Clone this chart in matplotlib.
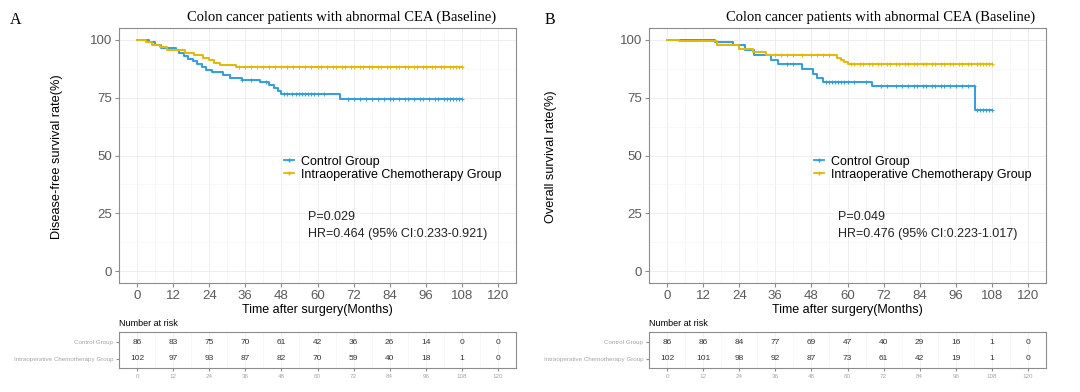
import matplotlib
matplotlib.use("Agg")
import matplotlib.pyplot as plt
from matplotlib.lines import Line2D
import numpy as np

plt.rcParams['font.family'] = ['Liberation Sans', 'DejaVu Sans']

blue = '#2E9FDF'
yellow = '#E7B800'
groups = ['Control Group', 'Intraoperative Chemotherapy Group']
title = 'Colon cancer patients with abnormal CEA (Baseline)'
risk_times = [0, 12, 24, 36, 48, 60, 72, 84, 96, 108, 120]

# Panel A - disease-free survival
a_ctrl_t = [0, 4, 6, 8, 13, 14, 15.5, 17, 18.5, 20, 21.5, 23, 25, 28.5, 31, 35, 41, 44, 45.5, 47, 48, 67.5, 108]
a_ctrl_s = [100, 98.8, 97.7, 96.5, 95.3, 94.1, 92.9, 91.8, 90.6, 89.4, 88.2, 87.0, 85.9, 84.7, 83.6, 82.6, 81.5,
            80.3, 79.1, 77.8, 76.5, 74.5, 74.5]
a_int_t = [0, 3, 5, 7.5, 10, 16, 19, 22, 24, 25.5, 27.5, 33, 108]
a_int_s = [100, 98.9, 97.7, 96.6, 95.5, 94.4, 93.3, 92.2, 91.1, 90.0, 89.0, 88.0, 88.0]
a_ctrl_cens = [35, 38, 43, 49, 50, 51.5, 53, 54, 55, 56, 57, 58, 59, 60, 62, 70, 72, 74, 76, 78, 80, 82, 84, 85,
               87, 89, 90, 92, 94, 95, 97, 99, 100, 102, 103, 104, 105, 106, 107, 108]
a_int_cens = [34, 36, 38, 40, 42, 44, 46, 48, 50, 52, 54, 56, 58, 60, 61, 63, 65, 66, 68, 69, 71, 72, 74, 75, 77,
              78, 80, 81, 83, 84, 86, 87, 89, 90, 92, 93, 95, 96, 98, 99, 101, 102, 104, 105, 106, 107, 108]
a_risk_ctrl = [86, 83, 75, 70, 61, 42, 36, 26, 14, 0, 0]
a_risk_int = [102, 97, 93, 87, 82, 70, 59, 40, 18, 1, 0]

# Panel B - overall survival
b_ctrl_t = [0, 16, 22, 26, 29, 34.5, 37, 45, 48.5, 50, 52, 68, 102.5, 108]
b_ctrl_s = [100, 98.8, 97.6, 95.4, 93.2, 91.0, 89.5, 87.2, 85.0, 83.5, 81.8, 79.9, 69.8, 69.8]
b_int_t = [0, 4, 16.5, 24, 28.5, 33, 56.5, 58, 59, 60, 108]
b_int_s = [100, 99.2, 97.6, 96.0, 94.5, 93.2, 92.2, 91.2, 90.2, 89.4, 89.4]
b_ctrl_cens = [40, 42, 53, 54, 55, 56, 57, 58, 59, 60, 62, 66, 71, 73, 76, 78, 80, 82, 83, 85, 86, 88, 89, 91, 92,
               94, 96, 98, 100, 102, 103, 104, 105, 106, 107, 108]
b_int_cens = [36, 38, 40, 42, 45, 48, 50, 52, 54, 61, 62, 64, 65, 67, 68, 70, 71, 73, 74, 76, 77, 79, 80, 82, 83,
              85, 86, 88, 89, 91, 92, 94, 95, 97, 98, 100, 101, 103, 104, 105, 106, 107, 108]
b_risk_ctrl = [86, 86, 84, 77, 69, 47, 40, 29, 16, 1, 0]
b_risk_int = [102, 101, 98, 92, 87, 73, 61, 42, 19, 1, 0]

panels = [
    dict(letter='A', x0=119, ylab='Disease-free survival rate(%)', ylab_x=57,
         curves=[(a_ctrl_t, a_ctrl_s, a_ctrl_cens, blue), (a_int_t, a_int_s, a_int_cens, yellow)],
         risk=[a_risk_ctrl, a_risk_int], p='P=0.029', hr='HR=0.464 (95% CI:0.233-0.921)',
         title_x=342, letter_x=10),
    dict(letter='B', x0=649, ylab='Overall survival rate(%)', ylab_x=551,
         curves=[(b_ctrl_t, b_ctrl_s, b_ctrl_cens, blue), (b_int_t, b_int_s, b_int_cens, yellow)],
         risk=[b_risk_ctrl, b_risk_int], p='P=0.049', hr='HR=0.476 (95% CI:0.223-1.017)',
         title_x=881, letter_x=545),
]

W, H = 1080, 392
fig = plt.figure(figsize=(W / 100, H / 100), dpi=100)


def fx(px):
    return px / W


def fy(py):
    return 1 - py / H


def step_value(t, s, x):
    i = np.searchsorted(t, x, side='right') - 1
    return np.array(s)[i]


for pn in panels:
    x0 = pn['x0']
    aw = 397
    ax = fig.add_axes([fx(x0), fy(283), fx(aw), (283 - 28) / H])
    ax.set_xlim(-6, 126)
    ax.set_ylim(-5, 105)
    ax.set_xticks(risk_times)
    ax.set_xticks(np.arange(6, 126, 12), minor=True)
    ax.set_yticks([0, 25, 50, 75, 100])
    ax.set_yticks([12.5, 37.5, 62.5, 87.5], minor=True)
    ax.grid(which='major', color='#EBEBEB', lw=0.6)
    ax.grid(which='minor', color='#F4F4F4', lw=0.4)
    ax.set_axisbelow(True)
    for sp in ax.spines.values():
        sp.set_color('#8C8C8C')
        sp.set_linewidth(0.8)
    ax.tick_params(which='major', length=3, color='#8C8C8C', labelsize=9.5, labelcolor='#5A5A5A', pad=2)
    ax.tick_params(which='minor', length=0)

    for t, s, cens, col in pn['curves']:
        ax.step(t, s, where='post', color=col, lw=1.4)
        ax.plot(cens, step_value(t, s, cens), ls='none', marker='+', ms=3.5, mew=0.7, color=col)

    handles = [Line2D([], [], color=c, lw=1.3, marker='+', ms=3.5) for c in (blue, yellow)]
    ax.legend(handles, groups, loc='upper left', bbox_to_anchor=(0.415, 0.50), frameon=False, fontsize=9,
              handlelength=0.8, handletextpad=0.6, labelspacing=0.1, borderpad=0, borderaxespad=0)
    ax.text(57, 23.5, pn['p'], fontsize=9, color='#222222', va='center')
    ax.text(57, 16, pn['hr'], fontsize=9, color='#222222', va='center')

    fig.text(fx(pn['title_x']), fy(17), title, family='Liberation Serif', fontsize=10.5, ha='center', va='center')
    fig.text(fx(pn['letter_x']), fy(20), pn['letter'], family='Liberation Serif', fontsize=11.5, va='center')
    fig.text(fx(pn['ylab_x']), fy(157), pn['ylab'], rotation=90, fontsize=9.2, ha='center', va='center')
    fig.text(fx(x0 + aw / 2), fy(310), 'Time after surgery(Months)', fontsize=9, ha='center', va='center')

    # risk table
    tb = fig.add_axes([fx(x0), fy(368), fx(aw), 36 / H])
    tb.set_xlim(-6, 126)
    tb.set_ylim(0, 1)
    rows_y = [0.72, 0.25]
    for yv, vals in zip(rows_y, pn['risk']):
        for xt, v in zip(risk_times, vals):
            tb.text(xt, yv, str(v), fontsize=6, color='#333333', ha='center', va='center')
    tb.set_xticks(risk_times)
    tb.set_xticks(np.arange(6, 126, 12), minor=True)
    tb.set_yticks(rows_y)
    tb.set_yticklabels(groups)
    for lab, col in zip(tb.get_yticklabels(), ('#8CC8EC', '#EFD266')):
        lab.set_color(col)
    tb.grid(which='major', axis='x', color='#EBEBEB', lw=0.5)
    tb.grid(which='minor', axis='x', color='#F4F4F4', lw=0.4)
    tb.tick_params(which='major', length=2, color='#8C8C8C', labelsize=4.5, labelcolor='#A5A5A5', pad=2)
    tb.tick_params(which='minor', length=0)
    for sp in tb.spines.values():
        sp.set_color('#8C8C8C')
        sp.set_linewidth(0.8)
    fig.text(fx(x0), fy(324), 'Number at risk', fontsize=6.5, va='center')

fig.savefig('out.png', dpi=100)
